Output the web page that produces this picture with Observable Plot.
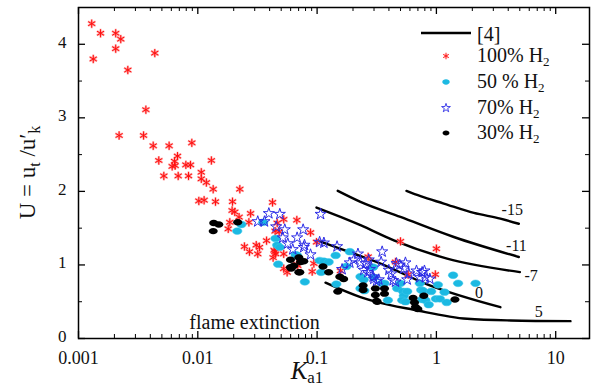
<!DOCTYPE html>
<html><head><meta charset="utf-8">
<script src="https://cdn.jsdelivr.net/npm/d3@7"></script>
<script src="https://cdn.jsdelivr.net/npm/@observablehq/plot@0.6"></script>
<style>html,body{margin:0;padding:0;background:#fff} svg{display:block}</style>
</head><body><div id="chart"></div>
<script>
// ---- data: [Ka1, U] ----
const h2_100 = [[0.00129,4.28],[0.00153,4.15],[0.00205,4.15],[0.00226,4.07],[0.00205,3.94],[0.00133,3.80],[0.00436,3.88],[0.00259,3.65],[0.00367,3.11],[0.00219,2.76],[0.00351,2.76],[0.00423,2.62],[0.00575,2.62],[0.00891,2.66],[0.00471,2.42],[0.00676,2.48],[0.00638,2.41],[0.0061,2.34],[0.00646,2.35],[0.00794,2.36],[0.00869,2.36],[0.00519,2.21],[0.00685,2.21],[0.00836,2.21],[0.0130,2.42],[0.0107,2.26],[0.0107,2.17],[0.0118,2.12],[0.01346,2.03],[0.0225,2.03],[0.0102,1.87],[0.0113,1.88],[0.01407,1.86],[0.01954,1.86],[0.0423,1.85],[0.0194,1.74],[0.0204,1.72],[0.0277,1.70],[0.0222,1.65],[0.0268,1.58],[0.01854,1.58],[0.018,1.49],[0.0463,1.57],[0.0525,1.62],[0.0676,1.61],[0.0481,1.45],[0.0445,1.46],[0.0377,1.33],[0.0246,1.25],[0.0309,1.27],[0.0329,1.24],[0.0271,1.18],[0.0318,1.15],[0.0442,1.18],[0.0428,1.10],[0.0881,1.44],[0.0436,1.20],[0.0449,1.15],[0.0525,1.15],[0.0525,0.95],[0.0561,0.90],[0.0676,1.01],[0.0689,0.99],[0.0939,1.02],[0.091,0.91],[0.0988,1.31],[0.157,0.92],[0.268,1.11],[0.5,1.32],[1.0,1.22],[0.454,1.04],[0.58,0.87],[0.98,0.87]];
const h2_50 = [[0.0232,1.55],[0.0214,1.46],[0.0448,1.36],[0.0463,1.27],[0.0487,1.24],[0.068,1.13],[0.0472,1.01],[0.0353,1.58],[0.066,1.14],[0.0789,0.77],[0.105,1.06],[0.114,1.05],[0.125,1.04],[0.143,1.13],[0.108,0.90],[0.188,1.18],[0.176,0.98],[0.145,0.74],[0.231,0.84],[0.246,0.80],[0.231,0.68],[0.249,0.65],[0.295,0.97],[0.299,0.83],[0.348,0.75],[0.367,0.75],[0.392,0.52],[0.469,0.68],[0.5,0.75],[0.526,0.64],[0.533,0.58],[0.569,0.64],[0.517,0.52],[0.55,0.50],[0.726,0.75],[0.746,0.66],[0.77,0.65],[0.759,0.53],[0.809,0.52],[0.863,0.46],[0.904,0.64],[1.03,0.73],[0.99,0.54],[1.07,0.54],[1.17,0.63],[1.22,0.49],[1.38,0.86],[1.52,0.75],[2.13,0.75]];
const h2_70 = [[0.0394,1.70],[0.0487,1.69],[0.0318,1.59],[0.0362,1.59],[0.0454,1.52],[0.0536,1.48],[0.0764,1.48],[0.0516,1.37],[0.068,1.37],[0.0568,1.29],[0.0625,1.21],[0.0773,1.24],[0.107,1.69],[0.0784,1.27],[0.0881,1.14],[0.105,1.31],[0.114,1.30],[0.147,1.25],[0.22,1.15],[0.162,0.94],[0.188,1.03],[0.203,1.07],[0.231,1.03],[0.255,1.02],[0.271,1.07],[0.246,0.93],[0.266,0.90],[0.299,0.81],[0.329,0.80],[0.351,1.18],[0.344,1.04],[0.277,0.94],[0.295,0.84],[0.315,0.78],[0.399,0.93],[0.418,0.88],[0.434,0.79],[0.454,0.77],[0.463,1.02],[0.493,1.00],[0.55,1.03],[0.533,0.95],[0.587,0.88],[0.681,0.92],[0.759,0.90],[0.794,0.92],[0.726,0.83],[0.809,0.83],[0.881,0.81],[0.569,0.80]];
const h2_30 = [[0.0136,1.57],[0.015,1.55],[0.01346,1.46],[0.0216,1.58],[0.0598,1.07],[0.0703,1.10],[0.0726,1.04],[0.0773,1.05],[0.0598,0.97],[0.0703,0.90],[0.0638,0.99],[0.0716,0.90],[0.0607,0.95],[0.112,0.98],[0.125,0.90],[0.155,0.84],[0.167,0.81],[0.149,0.64],[0.243,0.72],[0.315,0.51],[0.243,0.66],[0.308,0.68],[0.367,0.68],[0.308,0.59],[0.367,0.61],[0.319,0.50],[0.638,0.55],[0.655,0.49],[0.668,0.43],[0.699,0.40],[0.784,0.58],[1.43,0.53]];
// reference [4] curves
const ref_m15 = [[0.561,2.007],[0.736,1.935],[1.153,1.835],[2.06,1.707],[3.44,1.63],[4.91,1.56]];
const ref_m11 = [[0.149,2.007],[0.231,1.857],[0.5,1.653],[1.40,1.38],[4.91,1.108]];
const ref_m7  = [[0.0988,1.78],[0.157,1.653],[0.231,1.54],[0.44,1.335],[1.23,1.086],[5.01,0.903]];
const ref_0   = [[0.1,1.335],[0.19,1.17],[0.34,1.018],[0.836,0.736],[3.44,0.426]];
const ref_5   = [[0.1176,0.759],[0.231,0.563],[0.319,0.495],[0.646,0.391],[1.81,0.268],[4.18,0.245],[13.3,0.236]];
const curveLabels = [{x:4.32,y:1.753,t:"-15"},{x:4.69,y:1.257,t:"-11"},{x:6.23,y:0.845,t:"-7"},{x:2.27,y:0.617,t:"0"},{x:7.22,y:0.357,t:"5"}];
const notes = [{x:0.0299,y:0.22,t:"flame extinction"}];
const xTicks = [0.001,0.01,0.1,1,10];
const xTickLabels = ["0.001","0.01","0.1","1","10"];
const yTicks = [0,1,2,3,4];
const yTickLabels = ["0","1","2","3","4"];
const yMinor = [0.5,1.5,2.5,3.5];
const xDomain = [0.001,19.2];
const yDomain = [0,4.5];
const legendItems = ["100% H","50 % H","70% H","30% H"];

// ---- layout ----
const W=595,H=386,mL=78,mR=6,mT=7,mB=48;
const fh=H-mT-mB, fw=W-mL-mR;
const FONT = "Liberation Serif, Times New Roman, serif";
const xMinor = [];
for (const d of xTicks) for (let k=2;k<10;k++) if (d*k < xDomain[1]) xMinor.push(d*k);
const xLab = new Map(xTicks.map((d,i)=>[d,xTickLabels[i]]));
const yLab = new Map(yTicks.map((d,i)=>[d,yTickLabels[i]]));

const ellipse = {draw(ctx, size){const r=Math.sqrt(size/Math.PI), rx=r*1.2, ry=r*0.85, k=0.5523;
  ctx.moveTo(rx,0); ctx.bezierCurveTo(rx,ry*k,rx*k,ry,0,ry); ctx.bezierCurveTo(-rx*k,ry,-rx,ry*k,-rx,0);
  ctx.bezierCurveTo(-rx,-ry*k,-rx*k,-ry,0,-ry); ctx.bezierCurveTo(rx*k,-ry,rx,-ry*k,rx,0); ctx.closePath();}};

const X = d=>d[0], Y = d=>d[1];
const lineOpts = {x:X,y:Y,stroke:"black",strokeWidth:2.4,curve:"monotone-x"};
const CYAN="#1cb9e2", BLUE="#2b2be6", RED="#ff1010", INK="black";

const plot = Plot.plot({
  width:W, height:H, marginLeft:mL, marginRight:mR, marginTop:mT, marginBottom:mB,
  x:{type:"log", domain:xDomain},
  y:{domain:yDomain},
  marks:[
    Plot.line(ref_m15, lineOpts), Plot.line(ref_m11, lineOpts), Plot.line(ref_m7, lineOpts),
    Plot.line(ref_0, lineOpts), Plot.line(ref_5, lineOpts),
    Plot.dot(h2_100, {x:X,y:Y,symbol:"square",r:3.2,fill:"#ffc4c4",fillOpacity:0.7}),
    Plot.dot(h2_100, {x:X,y:Y,symbol:"asterisk",r:4.2,stroke:"#ff8080",strokeWidth:2,strokeOpacity:0.7}),
    Plot.dot(h2_100, {x:X,y:Y,symbol:"asterisk",r:3.8,stroke:RED,strokeWidth:1}),
    Plot.dot(h2_50, {x:X,y:Y,symbol:ellipse,r:4,fill:CYAN,stroke:"#3fc8ea",strokeWidth:0.5}),
    Plot.dot(h2_70, {x:X,y:Y,symbol:"star",r:3.5,fill:"none",stroke:BLUE,strokeWidth:1}),
    Plot.dot(h2_30, {x:X,y:Y,symbol:ellipse,r:3.8,fill:"black"}),
    Plot.text(curveLabels, {x:"x",y:"y",text:"t",fontSize:16,fill:INK}),
    Plot.text(notes, {x:"x",y:"y",text:"t",fontSize:20,fill:INK}),
    Plot.frame({stroke:INK,strokeWidth:1.5}),
    Plot.tickX(xTicks, {x:d=>d, insetTop:fh-7, stroke:INK, strokeWidth:1.3}),
    Plot.tickX(xTicks, {x:d=>d, insetBottom:fh-7, stroke:INK, strokeWidth:1.3}),
    Plot.tickX(xMinor, {x:d=>d, insetTop:fh-4, stroke:INK, strokeWidth:1}),
    Plot.tickX(xMinor, {x:d=>d, insetBottom:fh-4, stroke:INK, strokeWidth:1}),
    Plot.tickY(yTicks, {y:d=>d, insetRight:fw-7, stroke:INK, strokeWidth:1.3}),
    Plot.tickY(yTicks, {y:d=>d, insetLeft:fw-7, stroke:INK, strokeWidth:1.3}),
    Plot.tickY(yMinor, {y:d=>d, insetRight:fw-4, stroke:INK, strokeWidth:1}),
    Plot.tickY(yMinor, {y:d=>d, insetLeft:fw-4, stroke:INK, strokeWidth:1}),
    Plot.axisX(xTicks, {tickSize:0, tickPadding:13, tickFormat:d=>xLab.get(d), label:null, fontSize:18}),
    Plot.axisY(yTicks, {tickSize:0, tickPadding:12, tickFormat:d=>yLab.get(d), label:null, fontSize:17, dy:-2})
  ]
});

const svg = d3.select(plot);
svg.attr("font-family", FONT).style("font-family", FONT);
svg.selectAll("text").attr("font-family", FONT).style("font-family", FONT).attr("fill","#111");
// axis titles
const yl = svg.append("text").attr("transform",`translate(35,${mT+fh/2}) rotate(-90)`)
  .attr("text-anchor","middle").attr("font-size",23).attr("font-family",FONT).attr("fill","#111");
yl.append("tspan").text("U = u");
yl.append("tspan").attr("font-size",16).attr("dy",5).text("t");
yl.append("tspan").attr("dy",-5).text(" /u′");
yl.append("tspan").attr("font-size",16).attr("dy",5).text("k");

const xl = svg.append("text").attr("x",307).attr("y",379).attr("text-anchor","middle")
  .attr("font-size",25).attr("font-family",FONT).attr("fill","#111");
xl.append("tspan").attr("font-style","italic").text("K");
xl.append("tspan").attr("font-size",17).attr("dy",4).text("a1");

// legend
const lg = svg.append("g").attr("font-family",FONT).attr("font-size",20).attr("fill","#111").attr("text-anchor","start");
lg.append("line").attr("x1",421).attr("x2",471).attr("y1",33).attr("y2",33).attr("stroke","#000").attr("stroke-width",2.4);
lg.append("text").attr("x",477).attr("y",41).text("[4]");
const sym = (type,size)=>d3.symbol(type,size)();
const lrows = [
  {y:56, draw:g=>{g.append("path").attr("d",sym(d3.symbolSquare,22)).attr("fill","#ffc4c4").attr("fill-opacity",0.7);
                  g.append("path").attr("d",sym(d3.symbolAsterisk,30)).attr("stroke",RED).attr("stroke-width",0.9).attr("fill","none");}},
  {y:82, draw:g=>g.append("path").attr("d",sym(ellipse,30)).attr("fill",CYAN)},
  {y:108, draw:g=>g.append("path").attr("d",sym(d3.symbolStar,24)).attr("fill","none").attr("stroke",BLUE).attr("stroke-width",0.9)},
  {y:133, draw:g=>g.append("path").attr("d",sym(ellipse,26)).attr("fill","#000")}
];
lrows.forEach((r,i)=>{
  const g = lg.append("g").attr("transform",`translate(446,${r.y})`); r.draw(g);
  const t = lg.append("text").attr("x",477).attr("y",r.y+6);
  t.append("tspan").text(legendItems[i]);
  t.append("tspan").attr("font-size",13).attr("dy",4).text("2");
});

document.getElementById("chart").appendChild(plot);
</script>
</body></html>
